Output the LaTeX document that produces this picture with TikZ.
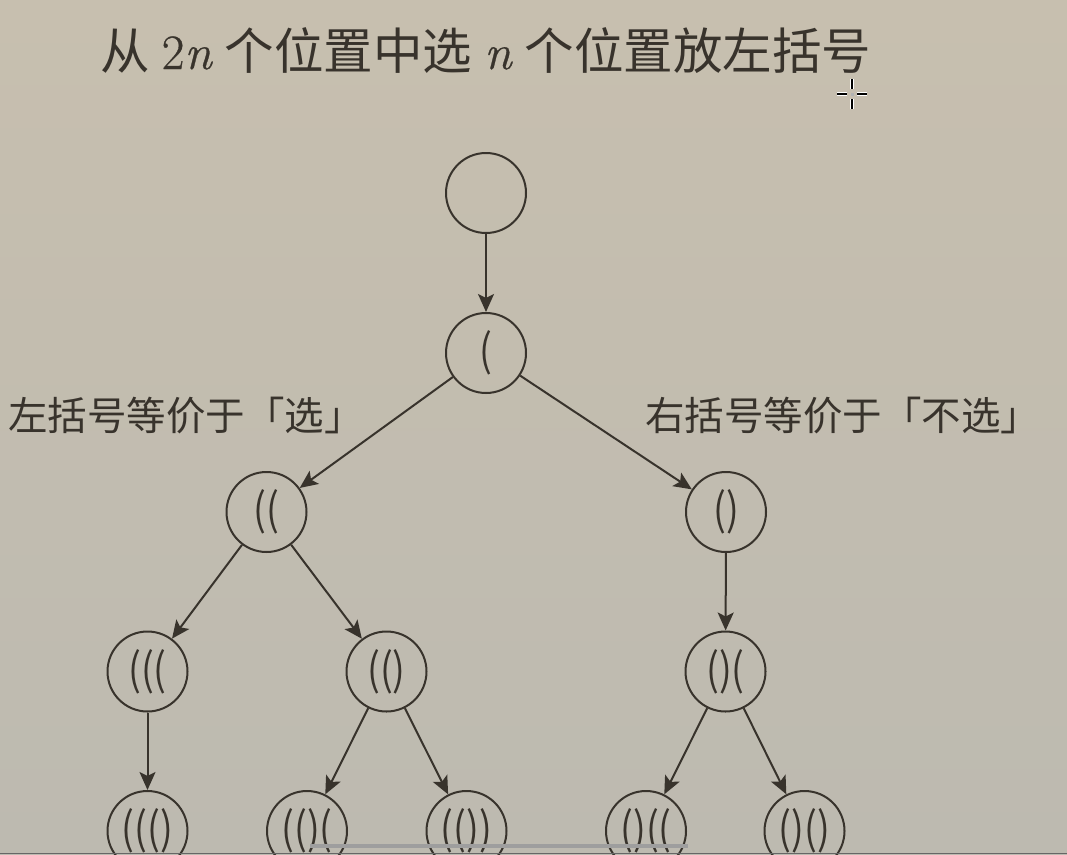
\documentclass[tikz,border=0pt]{standalone}
\usepackage{fontspec}
\newfontfamily\cjk{Noto Sans CJK SC}
\newfontfamily\parenfont[FakeStretch=0.86]{Noto Sans CJK SC}
\newfontfamily\lmr[FakeBold=0.6]{Latin Modern Roman}
\usetikzlibrary{arrows.meta}

\definecolor{ink}{RGB}{56,51,44}
\definecolor{bgtop}{RGB}{199,191,175}
\definecolor{bgmid}{RGB}{198,193,181}
\definecolor{bgbot}{RGB}{189,186,176}

\newcommand{\varn}[1]{{\lmr #1}}

\tikzset{
  state/.style={circle, draw=ink, line width=2pt, minimum size=80pt, inner sep=0pt,
    text=ink, font={\parenfont\fontsize{44}{46}\selectfont}},
  edge/.style={draw=ink, line width=2pt, -{Stealth[length=18pt,width=16pt,inset=4pt]}},
  caption/.style={text=ink, inner sep=0pt, font={\cjk\fontsize{39.5}{42}\selectfont}},
  heading/.style={text=ink, inner sep=0pt, font={\cjk\fontsize{49.5}{52}\selectfont}},
}

\begin{document}
\begin{tikzpicture}[x=1pt, y=-1pt]
  \useasboundingbox (0,0) rectangle (1067,854);
  \clip (0,0) rectangle (1067,854);
  \shade[top color=bgtop, middle color=bgmid, bottom color=bgbot] (0,0) rectangle (1067,854);

  % heading
  \node[heading, anchor=base west] (title) at (100,69)
    {从\hspace{12pt}\varn{2\textit{n}}\hspace{12pt}个位置中选\hspace{12pt}\varn{\textit{n}}\hspace{12pt}个位置放左括号};

  % tree of partial bracket strings
  \node[state] (r) at (486,193) {};
  \node[state] (a) at (486,353) {(};
  \node[state] (b) at (266.5,512) {((};
  \node[state] (c) at (726,512) {()};
  \node[state] (d) at (147.5,671.5) {(((};
  \node[state] (e) at (386.5,671.5) {(()};
  \node[state] (f) at (725.5,671.5) {()(};
  \node[state] (g) at (147.5,831) {((()};
  \node[state] (h) at (307,831) {(()(};
  \node[state] (i) at (466.5,831) {(())};
  \node[state] (j) at (646,831) {()((};
  \node[state] (k) at (804.5,831) {()()};

  \draw[edge] (r) -- (a);
  \draw[edge] (a) -- (b);
  \draw[edge] (a) -- (c);
  \draw[edge] (b) -- (d);
  \draw[edge] (b) -- (e);
  \draw[edge] (c) -- (f);
  \draw[edge] (d) -- (g);
  \draw[edge] (e) -- (h);
  \draw[edge] (e) -- (i);
  \draw[edge] (f) -- (j);
  \draw[edge] (f) -- (k);

  % branch captions
  \node[caption, anchor=west] (lcap) at (8,416) {左括号等价于「选」};
  \node[caption, anchor=west] (rcap) at (645,416) {右括号等价于「不选」};

  % pointer
  \foreach \a/\b in {{(852,79)}/{(852,89)}, {(852,99)}/{(852,109)}, {(837,94)}/{(847,94)}, {(857,94)}/{(867,94)}}{
    \draw[white, line width=4.5pt] \a -- \b;
    \draw[black, line width=2pt] \a -- \b;
  }
  \fill[gray!60] (850.5,92.5) rectangle (853.5,95.5);

  % progress bar and bottom edge
  \fill[black!38] (310,844) rectangle (688,848);
  \fill[black!60] (0,852.6) rectangle (1067,854);
\end{tikzpicture}
\end{document}
